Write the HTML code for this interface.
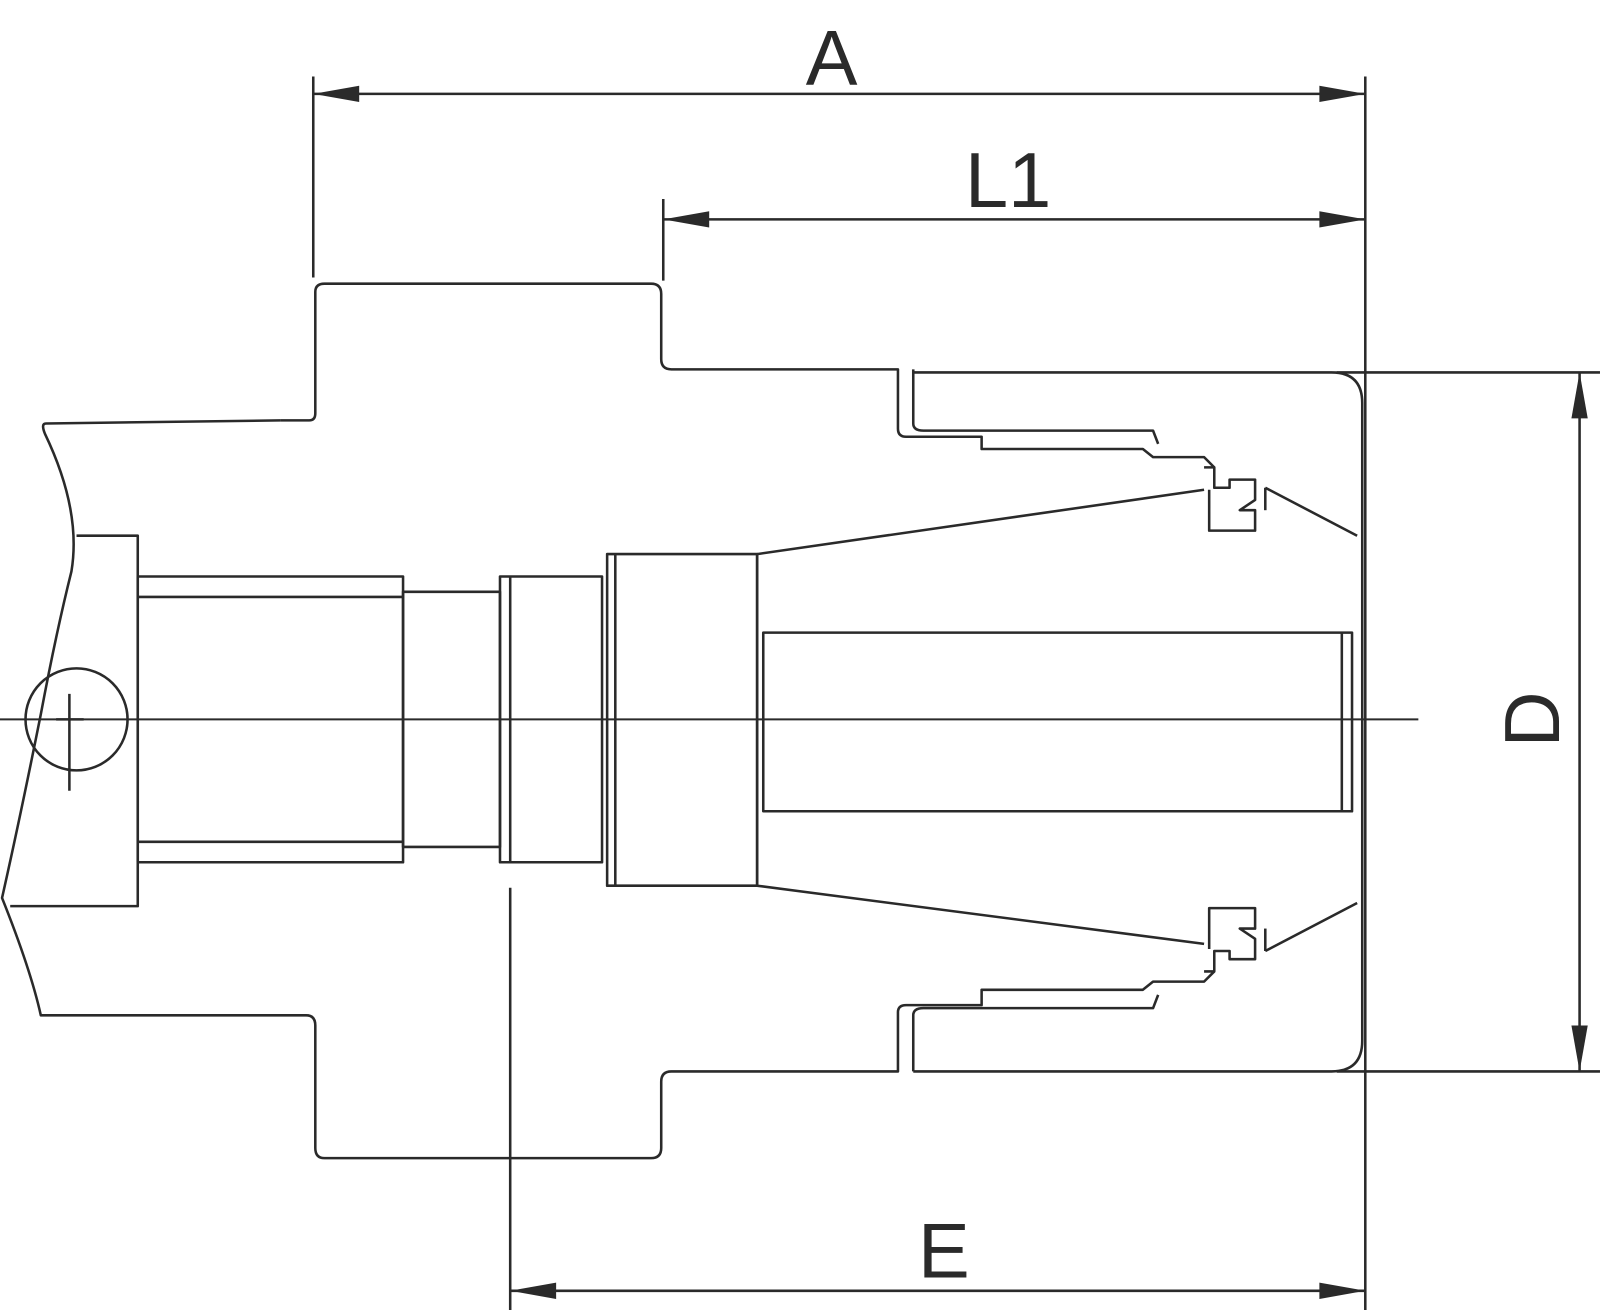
<!DOCTYPE html>
<html><head><meta charset="utf-8"><style>html,body{margin:0;padding:0;background:#fff}svg{display:block}</style></head>
<body>
<svg width="1600" height="1310" viewBox="0 0 1600 1310" xmlns="http://www.w3.org/2000/svg">
<g transform="scale(1.0204)">
<g fill="none" stroke="#2a2a2a" stroke-width="2.5" stroke-linejoin="round">
<line x1="307" y1="75" x2="307" y2="272"/>
<line x1="1338" y1="75" x2="1338" y2="1290"/>
<line x1="307" y1="92" x2="1338" y2="92"/>
<line x1="650" y1="195" x2="650" y2="275"/>
<line x1="650" y1="215" x2="1338" y2="215"/>
<line x1="500" y1="870" x2="500" y2="1290"/>
<line x1="500" y1="1265" x2="1338" y2="1265"/>
<line x1="1310" y1="365" x2="1568" y2="365"/>
<line x1="1310" y1="1050" x2="1568" y2="1050"/>
<line x1="1548" y1="365" x2="1548" y2="1050"/>
<line x1="0" y1="705" x2="1390" y2="705" stroke-width="2"/>
<path d="M275,412 L303,412 Q309,412 309,405 L309,286 Q309,278 318,278 L638,278 Q648,278 648,288 L648,352 Q648,362 658,362 L880,362 L880,420 Q880,428 888,428 L962,428 L962,440 L1120,440 L1130,448 L1180,448 L1190,458"/>
<path d="M275,412 L45,415 Q40,415 44,425 Q80,500 70,560 Q55,620 40,700 Q20,800 2,880 Q30,950 40,995 L300,995 Q309,995 309,1005 L309,1125 Q309,1135 318,1135 L638,1135 Q648,1135 648,1125 L648,1060 Q648,1050 658,1050 L880,1050 L880,992 Q880,985 888,985 L962,985 L962,970 L1120,970 L1130,962 L1180,962 L1190,952"/>
<path d="M895,1050 L895,995 Q895,988 905,988 L1130,988 L1135,975"/>
<path d="M895,362 L895,415 Q895,422 905,422 L1130,422 L1135,435"/>
<path d="M895,365 L1305,365 Q1335,365 1335,395 L1335,1020 Q1335,1050 1305,1050 L895,1050"/>
<path d="M1240,478 L1330,525"/><path d="M1240,932 L1330,885"/>
<path d="M1180,458 L1190,458 L1190,478 L1205,478 L1205,470 L1230,470 L1230,490 L1215,500 L1230,500 L1230,520 L1185,520 L1185,480"/>
<path d="M1180,952 L1190,952 L1190,932 L1205,932 L1205,940 L1230,940 L1230,920 L1215,910 L1230,910 L1230,890 L1185,890 L1185,930"/>
<path d="M1240,478 L1240,500"/><path d="M1240,932 L1240,910"/>
<path d="M742,543 L1180,480"/><path d="M742,868 L1180,925"/>
<line x1="742" y1="543" x2="742" y2="868"/>
<rect x="748" y="620" width="577" height="175"/>
<line x1="1315" y1="620" x2="1315" y2="795"/>
<path d="M75,525 L135,525 L135,888 L10,888"/>
<rect x="135" y="565" width="260" height="280"/>
<line x1="135" y1="585" x2="395" y2="585"/>
<line x1="135" y1="825" x2="395" y2="825"/>
<rect x="395" y="580" width="95" height="250"/>
<rect x="490" y="565" width="100" height="280"/>
<line x1="500" y1="565" x2="500" y2="845"/>
<rect x="595" y="543" width="147" height="325"/>
<line x1="603" y1="543" x2="603" y2="868"/>
<circle cx="75" cy="705" r="50"/>
<line x1="68" y1="680" x2="68" y2="775"/>
<line x1="55" y1="705" x2="82" y2="705"/>
</g>
<g fill="#2a2a2a">
<polygon points="307,92 352,84 352,100"/><polygon points="1338,92 1293,84 1293,100"/>
<polygon points="650,215 695,207 695,223"/><polygon points="1338,215 1293,207 1293,223"/>
<polygon points="500,1265 545,1257 545,1273"/><polygon points="1338,1265 1293,1257 1293,1273"/>
<polygon points="1548,365 1540,410 1556,410"/><polygon points="1548,1050 1540,1005 1556,1005"/>
</g>
<g font-family="'Liberation Sans',sans-serif" font-size="76" fill="#2a2a2a" text-anchor="middle">
<text x="815" y="83">A</text>
<text x="988" y="203">L1</text>
<text x="925" y="1252">E</text>
<text x="0" y="0" transform="translate(1528,705) rotate(-90)">D</text>
</g>
</g>
</svg>
</body></html>
